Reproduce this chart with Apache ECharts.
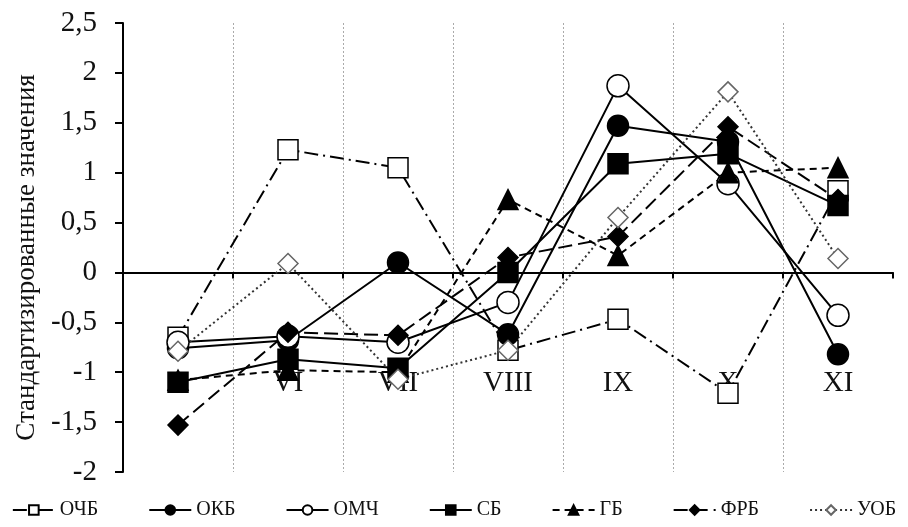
<!DOCTYPE html>
<html><head><meta charset="utf-8">
<script src="https://cdn.jsdelivr.net/npm/echarts@6/dist/echarts.min.js"></script>
<style>html,body{margin:0;padding:0;background:#fff}#c{width:908px;height:527px}</style>
</head><body><div id="c"></div>
<script>
const categories = ['V', 'VI', 'VII', 'VIII', 'IX', 'X', 'XI'];
const yTicks = { min: -2, max: 2.5, interval: 0.5 };
const ochb = [-0.65, 1.23, 1.05, -0.78, -0.47, -1.21, 0.82];
const okb  = [-0.76, -0.68, 0.10, -0.62, 1.47, 1.31, -0.82];
const omch = [-0.70, -0.64, -0.70, -0.30, 1.87, 0.89, -0.43];
const sb   = [-1.10, -0.87, -0.96, 0.00, 1.09, 1.19, 0.67];
const gb   = [-1.08, -0.98, -1.00, 0.73, 0.17, 1.00, 1.05];
const frb  = [-1.53, -0.60, -0.63, 0.15, 0.36, 1.46, 0.73];
const uob  = [-0.79, 0.09, -1.07, -0.78, 0.55, 1.81, 0.14];
const FONT = "'Liberation Serif', 'Times New Roman', serif";

function mk(name, data, symbol, size, filled, lineType, lineColor, borderColor) {
  return {
    name, type: 'line', data, symbol, symbolSize: size,
    lineStyle: { color: lineColor || '#000', width: 2, type: lineType },
    itemStyle: { color: filled ? '#000' : '#fff', borderColor: borderColor || '#000', borderWidth: 1.5 },
    emphasis: { disabled: true }, animation: false
  };
}
const chart = echarts.init(document.getElementById('c'));
chart.setOption({
  backgroundColor: '#fff',
  animation: false,
  grid: { left: 123, right: 15, top: 23, bottom: 55, containLabel: false, outerBoundsMode: 'none' },
  legend: {
    bottom: 2, left: 'center', itemWidth: 42, itemHeight: 12, itemGap: 50,
    textStyle: { fontFamily: FONT, fontSize: 20, color: '#111' },
    data: ['ОЧБ', 'ОКБ', 'ОМЧ', 'СБ', 'ГБ', 'ФРБ', 'УОБ']
  },
  xAxis: {
    type: 'category', data: categories, boundaryGap: true,
    axisLine: { onZero: true, lineStyle: { color: '#000', width: 2 } },
    axisTick: { show: true, length: 6, lineStyle: { color: '#000', width: 2 } },
    axisLabel: { margin: -103, fontFamily: FONT, fontSize: 29, color: '#111' },
    splitLine: { show: true, showMaxLine: false, showMinLine: false, lineStyle: { color: '#aaa', width: 1, type: [2, 2] } }
  },
  yAxis: {
    type: 'value', min: yTicks.min, max: yTicks.max, interval: yTicks.interval,
    name: 'Стандартизированные значения', nameLocation: 'middle', nameGap: 82,
    nameTextStyle: { fontFamily: FONT, fontSize: 27, color: '#111', padding: [0, 20, 0, 0] },
    axisLine: { show: true, lineStyle: { color: '#000', width: 2 } },
    axisTick: { show: true, length: 8, lineStyle: { color: '#000', width: 2 } },
    axisLabel: { margin: 26, fontFamily: FONT, fontSize: 29, color: '#111',
      formatter: v => String(v).replace('.', ',') },
    splitLine: { show: false }
  },
  series: [
    mk('ОЧБ', ochb, 'rect', 20, false, [14, 5, 2, 5]),
    mk('ОКБ', okb, 'circle', 21, true, 'solid'),
    mk('ОМЧ', omch, 'circle', 22, false, 'solid'),
    mk('СБ', sb, 'rect', 20, true, 'solid'),
    mk('ГБ', gb, 'triangle', 20, true, [7, 5]),
    mk('ФРБ', frb, 'diamond', 20, true, [14, 6]),
    mk('УОБ', uob, 'diamond', 20, false, [2, 3], '#333', '#666')
  ]
});
</script></body></html>
